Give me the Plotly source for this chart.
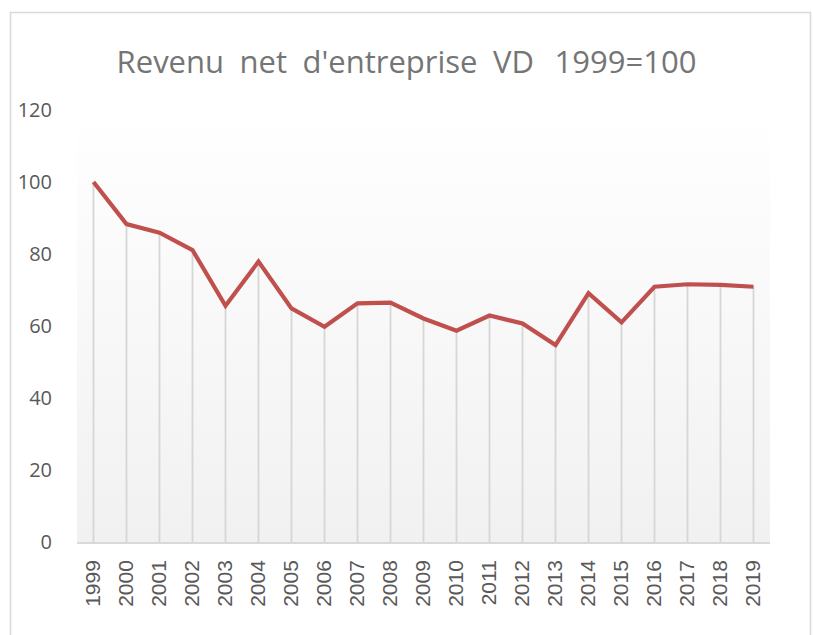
import base64
import plotly.graph_objects as go

years = [str(y) for y in range(1999, 2020)]
values = [100, 88.3, 85.9, 81.1, 65.6, 77.9, 64.9, 59.8, 66.3, 66.5,
          62.1, 58.7, 62.9, 60.7, 54.7, 69.1, 61.0, 70.9, 71.6, 71.4, 70.9]
y_ticks = [0, 20, 40, 60, 80, 100, 120]
title_text = "Revenu net d'entreprise VD  1999=100"

W, H = 813, 635
L, R, T, B = 77, 43, 110, 93
pw, ph = W - L - R, H - T - B

svg = ('<svg xmlns="http://www.w3.org/2000/svg" width="100" height="100" preserveAspectRatio="none">'
       '<defs><linearGradient id="g" x1="0" y1="0" x2="0" y2="1">'
       '<stop offset="0" stop-color="#ffffff"/><stop offset="1" stop-color="#f1f1f1"/>'
       '</linearGradient></defs><rect width="100" height="100" fill="url(#g)"/></svg>')
src = "data:image/svg+xml;base64," + base64.b64encode(svg.encode()).decode()

# wider word spacing as in the original title rendering
shown_title = title_text.replace("  ", "\u2002\u2009").replace(" ", "\u2002")

fig = go.Figure()
# drop lines
fig.add_trace(go.Scatter(
    x=years, y=values, mode="markers", marker=dict(size=0.1, opacity=0),
    error_y=dict(type="data", symmetric=False, array=[0] * len(values),
                 arrayminus=values, color="#d6d6d6", thickness=1.8, width=0),
    hoverinfo="skip", showlegend=False))
fig.add_trace(go.Scatter(
    x=years, y=values, mode="lines",
    line=dict(color="#C0504D", width=4.2), showlegend=False))

def px2paper_x(px):
    return (px - L) / pw

def px2paper_y(py):
    return (H - B - py) / ph

fig.update_layout(
    width=W, height=H,
    margin=dict(l=L, r=R, t=T, b=B),
    paper_bgcolor="white", plot_bgcolor="rgba(0,0,0,0)",
    title=dict(text=shown_title, x=0.5, xref="container", xanchor="center",
               y=1 - 62 / H, yanchor="middle", yref="container",
               font=dict(family="Open Sans", size=31, color="#757575")),
    images=[dict(source=src, xref="paper", yref="paper", x=0, y=1,
                 sizex=1, sizey=1, sizing="stretch", layer="below",
                 xanchor="left", yanchor="top")],
    shapes=[dict(type="rect", xref="paper", yref="paper",
                 x0=px2paper_x(10.5), x1=px2paper_x(810.5),
                 y0=px2paper_y(640), y1=px2paper_y(12.5),
                 line=dict(color="#d9d9d9", width=1.5), fillcolor="rgba(0,0,0,0)",
                 layer="below")],
    xaxis=dict(type="category", range=[-0.5, len(years) - 0.5], showgrid=False,
               showline=True, linecolor="#d9d9d9", linewidth=1.5, tickangle=-90,
               ticks="", ticklabelstandoff=8,
               tickfont=dict(family="Liberation Sans", size=21, color="#595959")),
    yaxis=dict(range=[0, 120], tickvals=y_ticks, showgrid=False,
               zeroline=False, showline=False, ticks="", ticklabelstandoff=24,
               tickfont=dict(family="Open Sans", size=20, color="#595959")),
)
fig.write_html("out.html", config={"displayModeBar": False},
               post_script="document.body.style.margin='0';document.body.style.overflow='hidden';")
